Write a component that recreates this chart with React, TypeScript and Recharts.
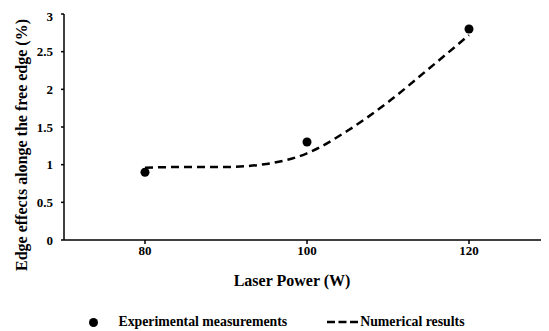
import { ComposedChart, Line, Scatter, XAxis, YAxis, Legend, Label } from "recharts"

const experimentalPower = [80, 100, 120]
const experimentalEdge = [0.9, 1.3, 2.8]

const numericalPower = [80, 85, 90, 95, 100, 105, 110, 115, 120]
const numericalEdge = [0.96, 0.97, 0.97, 1.01, 1.15, 1.45, 1.83, 2.27, 2.72]

const xTicks = [80, 100, 120]
const yTicks = [0, 0.5, 1, 1.5, 2, 2.5, 3]

const experimental = experimentalPower.map((p, i) => ({ power: p, edge: experimentalEdge[i] }))
const numerical = numericalPower.map((p, i) => ({ power: p, edge: numericalEdge[i] }))

const font = "'Liberation Serif', 'Times New Roman', serif"

function YTitle(props: any) {
  const { viewBox } = props
  const x = viewBox.x + 13
  const y = viewBox.y + viewBox.height / 2 + 18
  return (
    <text
      x={x}
      y={y}
      transform={`rotate(-90, ${x}, ${y})`}
      textAnchor="middle"
      dominantBaseline="central"
      fontFamily={font}
      fontWeight="bold"
      fontSize={16}
      fill="#000"
    >
      Edge effects alonge the free edge (%)
    </text>
  )
}

function XTitle(props: any) {
  const { viewBox } = props
  const x = viewBox.x + viewBox.width / 2 - 15
  const y = viewBox.y + 40
  return (
    <text x={x} y={y} textAnchor="middle" dominantBaseline="central" fontFamily={font} fontWeight="bold" fontSize={16} fill="#000">
      Laser Power (W)
    </text>
  )
}

function LegendContent() {
  return (
    <div
      style={{
        height: 30,
        paddingTop: 12,
        boxSizing: "border-box",
        display: "flex",
        justifyContent: "center",
        alignItems: "center",
        fontFamily: font,
        fontWeight: "bold",
        fontSize: 13.8,
        color: "#000",
        paddingRight: 4,
      }}
    >
      <svg width={9} height={9} style={{ marginRight: 20 }}>
        <circle cx={4.5} cy={4.5} r={4.5} fill="#000" />
      </svg>
      <span style={{ marginRight: 40 }}>Experimental measurements</span>
      <svg width={31} height={6} style={{ marginRight: 2 }}>
        <line x1={0} y1={3} x2={31} y2={3} stroke="#000" strokeWidth={2.5} strokeDasharray="8 3.5" />
      </svg>
      <span>Numerical results</span>
    </div>
  )
}

export default function App() {
  return (
    <div style={{ width: 541, height: 323, overflow: "hidden" }}>
      <ComposedChart width={542} height={323} margin={{ top: 6, right: 0, left: 0, bottom: 0 }}>
        <XAxis
          type="number"
          dataKey="power"
          domain={[70, 130]}
          ticks={xTicks}
          allowDataOverflow
          height={61}
          stroke="#000"
          strokeWidth={1.5}
          tickSize={4}
          tick={{ fontSize: 13, fontWeight: "bold", fill: "#000", fontFamily: font }}
        >
          <Label content={<XTitle />} />
        </XAxis>
        <YAxis
          type="number"
          dataKey="edge"
          domain={[0, 3]}
          ticks={yTicks}
          width={56}
          stroke="#000"
          strokeWidth={1.5}
          tickSize={3}
          tickMargin={8}
          tick={{ fontSize: 13, fontWeight: "bold", fill: "#000", fontFamily: font }}
        >
          <Label content={<YTitle />} />
        </YAxis>
        <Legend verticalAlign="bottom" content={<LegendContent />} />
        <Line
          data={numerical}
          dataKey="edge"
          type="monotone"
          stroke="#000"
          strokeWidth={2.5}
          strokeDasharray="8 5"
          dot={false}
          activeDot={false}
          isAnimationActive={false}
          name="Numerical results"
        />
        <Scatter
          data={experimental}
          dataKey="edge"
          fill="#000"
          shape="circle"
          isAnimationActive={false}
          name="Experimental measurements"
        />
      </ComposedChart>
    </div>
  )
}
